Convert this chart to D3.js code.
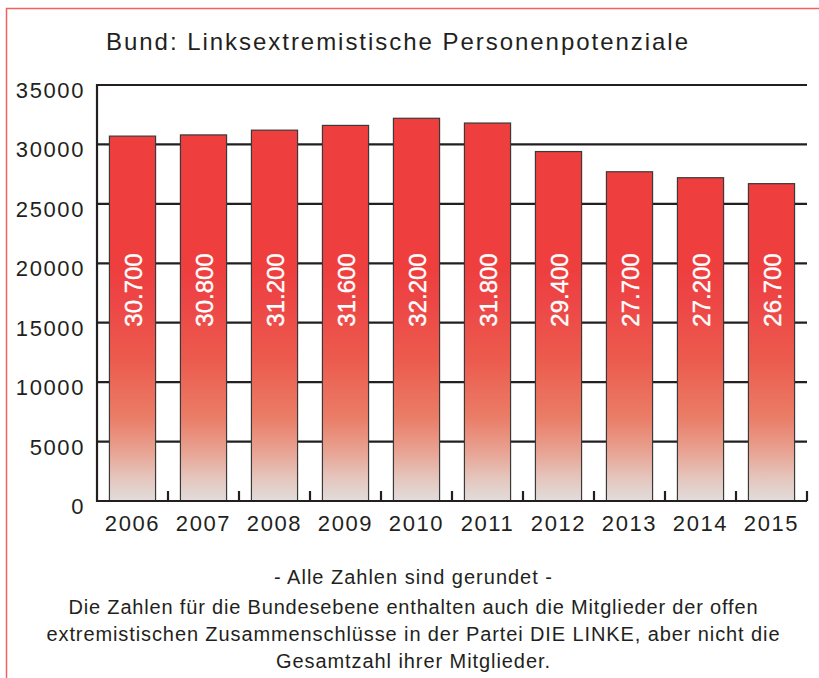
<!DOCTYPE html>
<html>
<head>
<meta charset="utf-8">
<script src="https://cdn.jsdelivr.net/npm/d3@7"></script>
<style>
  html, body { margin: 0; padding: 0; background: #fff; }
  svg { display: block; font-family: "Liberation Sans", Arial, sans-serif; }
</style>
</head>
<body>
<div id="root"></div>
<script>
const years = ["2006", "2007", "2008", "2009", "2010", "2011", "2012", "2013", "2014", "2015"];
const values = [30700, 30800, 31200, 31600, 32200, 31800, 29400, 27700, 27200, 26700];
const yTicks = [0, 5000, 10000, 15000, 20000, 25000, 30000, 35000];
const title = "Bund: Linksextremistische Personenpotenziale";
const notes = [
    "- Alle Zahlen sind gerundet -",
    "Die Zahlen für die Bundesebene enthalten auch die Mitglieder der offen",
    "extremistischen Zusammenschlüsse in der Partei DIE LINKE, aber nicht die",
    "Gesamtzahl ihrer Mitglieder."
];

const w = 819;
const h = 678;
const plotL = 97, plotR = 807, plotT = 85, plotB = 501;
const ink = "#231f20";

const svg = d3.select("#root")
    .append("svg")
    .attr("width", w)
    .attr("height", h);

// red frame (top + left)
svg.append("path")
    .attr("d", `M6.5,${h} L6.5,8.5 L${w},8.5`)
    .attr("fill", "none")
    .attr("stroke", "#f06262")
    .attr("stroke-width", 1.5);

const x = d3.scaleBand().domain(years).range([plotL, plotR]).padding(0);
const y = d3.scaleLinear().domain([0, 35000]).range([plotB, plotT]);

// gradient for the bars, fixed to the plot area
const grad = svg.append("defs").append("linearGradient")
    .attr("id", "barGrad")
    .attr("gradientUnits", "userSpaceOnUse")
    .attr("x1", 0).attr("x2", 0)
    .attr("y1", y(0)).attr("y2", y(35000));
const stops = [
    [0, "#e1dddb"], [0.06, "#e5c3ba"], [0.12, "#e8a292"], [0.2, "#ea7d67"],
    [0.34, "#ec5b4d"], [0.48, "#ed4646"], [0.56, "#ee3e3e"], [1, "#ee3e3e"]
];
grad.selectAll("stop")
    .data(stops)
    .enter()
    .append("stop")
    .attr("offset", d => d[0])
    .attr("stop-color", d => d[1]);

svg.append("text")
    .attr("x", 106)
    .attr("y", 50)
    .attr("font-size", 24)
    .attr("fill", ink)
    .attr("textLength", 582)
    .attr("lengthAdjust", "spacing")
    .text(title);

// gridlines
svg.append("g")
    .selectAll("line")
    .data(yTicks.filter(d => d > 0))
    .enter()
    .append("line")
    .attr("x1", plotL).attr("x2", plotR)
    .attr("y1", d => y(d)).attr("y2", d => y(d))
    .attr("stroke", ink)
    .attr("stroke-width", 2.2);

// y labels
svg.append("g")
    .selectAll("text")
    .data(yTicks)
    .enter()
    .append("text")
    .attr("x", 85)
    .attr("y", d => y(d) + 13)
    .attr("text-anchor", "end")
    .attr("font-size", 22)
    .attr("letter-spacing", 1.6)
    .attr("fill", ink)
    .text(d => d);

// bars
const bw = x.bandwidth();
svg.append("g")
    .selectAll("rect")
    .data(values)
    .enter()
    .append("rect")
    .attr("x", (d, i) => x(years[i]) + bw * 0.175)
    .attr("y", d => y(d))
    .attr("width", bw * 0.65)
    .attr("height", d => y(0) - y(d))
    .attr("fill", "url(#barGrad)")
    .attr("stroke", "#3a3a3a")
    .attr("stroke-width", 1.2);

// value labels, rotated
svg.append("g")
    .selectAll("text")
    .data(values)
    .enter()
    .append("text")
    .attr("transform", (d, i) => `translate(${x(years[i]) + bw * 0.5 + 9},${290}) rotate(-90)`)
    .attr("text-anchor", "middle")
    .attr("font-size", 24)
    .attr("fill", "#fff")
    .attr("stroke", "#fff")
    .attr("stroke-width", 0.4)
    .text(d => d3.format(",")(d).replace(",", "."));

// axes
svg.append("path")
    .attr("d", `M${plotL},${plotT - 1} L${plotL},${plotB} L${plotR},${plotB}`)
    .attr("fill", "none")
    .attr("stroke", ink)
    .attr("stroke-width", 2.2);

svg.append("g")
    .selectAll("line")
    .data(years)
    .enter()
    .append("line")
    .attr("x1", d => x(d) + bw).attr("x2", d => x(d) + bw)
    .attr("y1", plotB).attr("y2", plotB - 10)
    .attr("stroke", ink)
    .attr("stroke-width", 2.2);

// x labels
svg.append("g")
    .selectAll("text")
    .data(years)
    .enter()
    .append("text")
    .attr("x", d => x(d) + bw / 2)
    .attr("y", 531)
    .attr("text-anchor", "middle")
    .attr("font-size", 22)
    .attr("letter-spacing", 1.6)
    .attr("fill", ink)
    .text(d => d);

// notes underneath
const noteY = [584, 614, 641, 668];
const noteW = [278, 689, 733, 274];
svg.append("g")
    .selectAll("text")
    .data(notes)
    .enter()
    .append("text")
    .attr("x", 413)
    .attr("y", (d, i) => noteY[i])
    .attr("text-anchor", "middle")
    .attr("font-size", 20)
    .attr("fill", ink)
    .attr("textLength", (d, i) => noteW[i])
    .attr("lengthAdjust", "spacing")
    .text(d => d);
</script>
</body>
</html>
